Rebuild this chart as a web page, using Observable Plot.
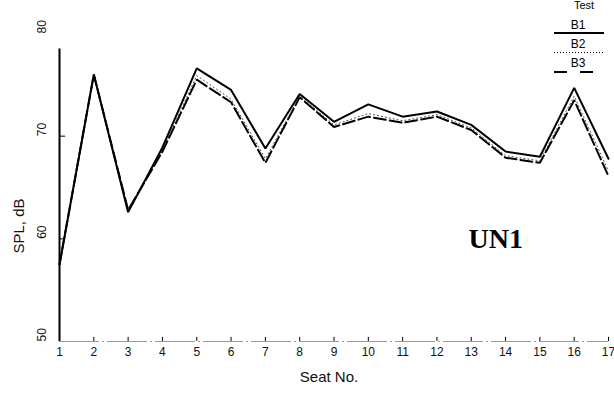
<!DOCTYPE html>
<html>
<head>
<meta charset="utf-8">
<script src="https://cdn.jsdelivr.net/npm/d3@7"></script>
<script src="https://cdn.jsdelivr.net/npm/@observablehq/plot@0.6"></script>
<style>
  html, body { margin: 0; padding: 0; background: white; }
  #chart { position: relative; width: 614px; height: 396px; }
  #legend { position: absolute; left: 0; top: 0; }
</style>
</head>
<body>
<div id="chart"></div>
<script>
// Seat numbers along the row and the SPL (dB) measured at each seat for three tests
const seats = [1, 2, 3, 4, 5, 6, 7, 8, 9, 10, 11, 12, 13, 14, 15, 16, 17];
const b1 = [57.5, 76.0, 62.6, 68.9, 76.6, 74.5, 68.8, 74.1, 71.4, 73.1, 71.9, 72.4, 71.1, 68.5, 68.0, 74.7, 67.8];
const b2 = [57.5, 76.0, 62.8, 68.7, 75.9, 73.6, 67.8, 73.9, 71.1, 72.2, 71.5, 72.1, 70.8, 68.1, 67.6, 73.9, 66.6];
const b3 = [57.5, 76.0, 62.8, 68.5, 75.5, 73.3, 67.4, 73.8, 70.9, 71.9, 71.3, 71.9, 70.6, 67.9, 67.4, 73.5, 66.1];
const yTicks = [50, 60, 70, 80];
const tests = ["B1", "B2", "B3"];
const yAxisTop = 78.5;
const panelLabel = "UN1";

const font = "'Liberation Sans', 'DejaVu Sans', sans-serif";

const series = [
  {name: "B3", values: b3, stroke: "black", strokeWidth: 2, dash: "12,4"},
  {name: "B2", values: b2, stroke: "#444", strokeWidth: 1, dash: "1,3"},
  {name: "B1", values: b1, stroke: "black", strokeWidth: 2, dash: null}
];

const lineMarks = series.map(s =>
  Plot.line(seats.map((seat, i) => ({seat, spl: s.values[i]})), {
    x: "seat", y: "spl",
    stroke: s.stroke, strokeWidth: s.strokeWidth,
    strokeDasharray: s.dash, strokeLinejoin: "miter"
  })
);

const chart = Plot.plot({
  width: 614, height: 396,
  marginLeft: 59, marginRight: 6, marginTop: 33, marginBottom: 55,
  x: {domain: [1, 17], axis: null},
  y: {domain: [50, 80], axis: null},
  style: {fontFamily: font, background: "white", color: "black"},
  marks: [
    // baseline and y axis line
    Plot.ruleY([50], {stroke: "#999", strokeWidth: 1, strokeDasharray: "40,3,2,3"}),
    Plot.ruleX([1], {y1: 50, y2: yAxisTop, stroke: "black", strokeWidth: 2}),
    // inward tick marks
    Plot.ruleX(seats, {x: d => d, y1: 50, y2: 50.4, stroke: "black", strokeWidth: 1}),
    Plot.ruleY(yTicks.filter(t => t < yAxisTop && t > 50), {y: d => d, x1: 1, x2: 1.18, stroke: "black", strokeWidth: 1}),
    // tick labels
    Plot.text(seats, {x: d => d, frameAnchor: "bottom", dy: 14, fontSize: 12, fill: "#111"}),
    Plot.text(yTicks, {y: d => d, frameAnchor: "left", rotate: -90, dx: -17, fontSize: 12, fill: "#111"}),
    // axis titles
    Plot.text(["Seat No."], {frameAnchor: "bottom", dy: 40, dx: -5, fontSize: 15, fill: "#111"}),
    Plot.text(["SPL, dB"], {frameAnchor: "left", rotate: -90, dx: -40, dy: 66, fontSize: 15, fill: "#111"}),
    // panel label
    Plot.text([panelLabel], {frameAnchor: "top-left", dx: 409, dy: 214, textAnchor: "start", lineAnchor: "bottom",
      fontSize: 28, fontWeight: "bold", fontFamily: "'Liberation Serif', 'DejaVu Serif', serif", fill: "black"}),
    ...lineMarks
  ]
});

const host = document.getElementById("chart");
host.appendChild(chart);

// Legend in the upper right corner
const legend = d3.select(host).append("svg")
  .attr("id", "legend")
  .attr("width", 614).attr("height", 80)
  .style("font-family", font);

legend.append("text")
  .attr("x", 584).attr("y", 6)
  .attr("text-anchor", "middle").attr("dominant-baseline", "middle")
  .attr("font-size", 11).text("Test");

const styles = {B1: {w: 2, dash: null}, B2: {w: 1, dash: "1,2"}, B3: {w: 2, dash: "13,13"}};
tests.forEach((t, i) => {
  const yText = 26 + i * 19;
  const yLine = 33 + i * 19.5;
  legend.append("text")
    .attr("x", 578).attr("y", yText)
    .attr("text-anchor", "middle").attr("dominant-baseline", "middle")
    .attr("font-size", 12).text(t);
  legend.append("line")
    .attr("x1", 554).attr("x2", 604)
    .attr("y1", yLine).attr("y2", yLine)
    .attr("stroke", "black")
    .attr("stroke-width", styles[t].w)
    .attr("stroke-dasharray", styles[t].dash);
});
</script>
</body>
</html>
